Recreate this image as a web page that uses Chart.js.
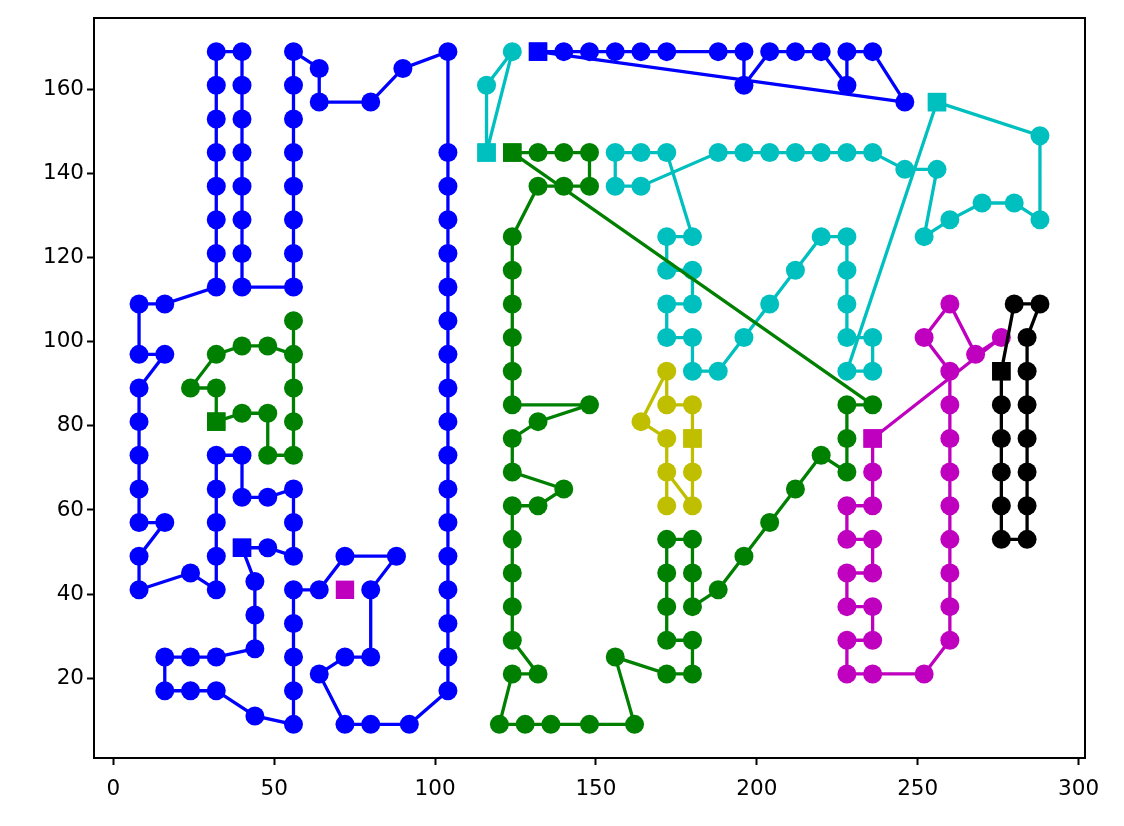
<!DOCTYPE html>
<html lang="en">
<head>
    <meta charset="UTF-8">
    <title>Vehicle routes</title>
    <script src="https://cdn.jsdelivr.net/npm/chart.js"></script>
    <style>
        body { margin: 0; background: #fff; }
        #wrap { width: 1124px; height: 826px; }
    </style>
</head>
<body>
    <div id="wrap"><canvas id="routeChart" width="1124" height="826"></canvas></div>

    <script>
        // route points as [x, y]; first point of each route is its depot (square marker)
        const routeBlue1 = [[40,51],[48,51],[56,49],[56,57],[56,65],[48,63],[40,63],[40,73],[32,73],[32,65],[32,57],[32,49],[32,41],[24,45],[8,41],[8,49],[16,57],[8,57],[8,65],[8,73],[8,81],[8,89],[16,97],[8,97],[8,109],[16,109],[32,113],[32,121],[32,129],[32,137],[32,145],[32,153],[32,161],[32,169],[40,169],[40,161],[40,153],[40,145],[40,137],[40,129],[40,121],[40,113],[56,113],[56,121],[56,129],[56,137],[56,145],[56,153],[56,161],[56,169],[64,165],[64,157],[80,157],[90,165],[104,169],[104,145],[104,137],[104,129],[104,121],[104,113],[104,105],[104,97],[104,89],[104,81],[104,73],[104,65],[104,57],[104,49],[104,41],[104,33],[104,25],[104,17],[92,9],[80,9],[72,9],[64,21],[72,25],[80,25],[80,41],[88,49],[72,49],[64,41],[56,41],[56,33],[56,25],[56,17],[56,9],[44,11],[32,17],[24,17],[16,17],[16,25],[24,25],[32,25],[44,27],[44,35],[44,43],[40,51]];
        const routeBlue2 = [[132,169],[140,169],[148,169],[156,169],[164,169],[172,169],[188,169],[196,169],[196,161],[204,169],[212,169],[220,169],[228,161],[228,169],[236,169],[246,157],[132,169]];
        const routeGreen1 = [[32,81],[40,83],[48,83],[48,73],[56,73],[56,81],[56,89],[56,105],[56,97],[48,99],[40,99],[32,97],[24,89],[32,89],[32,81]];
        const routeGreen2 = [[124,145],[132,145],[140,145],[148,145],[148,137],[140,137],[132,137],[124,125],[124,117],[124,109],[124,101],[124,93],[124,85],[148,85],[132,81],[124,77],[124,69],[140,65],[132,61],[124,61],[124,53],[124,45],[124,37],[124,29],[132,21],[124,21],[120,9],[128,9],[136,9],[148,9],[162,9],[156,25],[172,21],[180,21],[180,29],[172,29],[172,37],[172,45],[172,53],[180,53],[180,45],[180,37],[188,41],[196,49],[204,57],[212,65],[220,73],[228,69],[228,77],[228,85],[236,85],[124,145]];
        const routeCyan1 = [[116,145],[116,161],[124,169],[116,145]];
        const routeCyan2 = [[256,157],[288,149],[288,129],[280,133],[270,133],[260,129],[252,125],[256,141],[246,141],[236,145],[228,145],[220,145],[212,145],[204,145],[196,145],[188,145],[164,137],[156,137],[156,145],[164,145],[172,145],[180,125],[172,125],[172,117],[180,117],[180,109],[172,109],[172,101],[180,101],[180,93],[188,93],[196,101],[204,109],[212,117],[220,125],[228,125],[228,117],[228,109],[228,101],[236,101],[236,93],[228,93],[256,157]];
        const routeMagenta1 = [[72,41]];
        const routeMagenta2 = [[236,77],[236,69],[236,61],[228,61],[228,53],[236,53],[236,45],[228,45],[228,37],[236,37],[236,29],[228,29],[228,21],[236,21],[252,21],[260,29],[260,37],[260,45],[260,53],[260,61],[260,69],[260,77],[260,85],[260,93],[252,101],[260,109],[268,97],[276,101],[236,77]];
        const routeYellow = [[180,77],[180,85],[172,85],[172,93],[164,81],[172,77],[172,61],[172,69],[180,61],[180,69],[180,77]];
        const routeBlack = [[276,93],[280,109],[288,109],[284,101],[284,93],[284,85],[284,77],[284,69],[284,61],[284,53],[276,53],[276,61],[276,69],[276,77],[276,85],[276,93]];

        const xTicks = [0, 50, 100, 150, 200, 250, 300];
        const yTicks = [20, 40, 60, 80, 100, 120, 140, 160];

        // drawn in this order, later ones on top
        const routes = [
            { pts: routeBlue1, color: '#0000ff' },
            { pts: routeBlue2, color: '#0000ff' },
            { pts: routeCyan1, color: '#00bfbf' },
            { pts: routeCyan2, color: '#00bfbf' },
            { pts: routeGreen1, color: '#008000' },
            { pts: routeGreen2, color: '#008000' },
            { pts: routeMagenta1, color: '#bf00bf' },
            { pts: routeMagenta2, color: '#bf00bf' },
            { pts: routeYellow, color: '#bfbf00' },
            { pts: routeBlack, color: '#000000' }
        ];

        function isDepot(c) {
            return c.dataIndex === 0 || c.dataIndex === c.dataset.data.length - 1;
        }

        // Chart.js paints dataset 0 last, so reverse to keep black on top
        const datasets = routes.map(r => ({
            data: r.pts.map(p => ({ x: p[0], y: p[1] })),
            showLine: true,
            borderColor: r.color,
            backgroundColor: r.color,
            borderWidth: 3.3,
            pointBorderWidth: 0,
            pointStyle: c => isDepot(c) ? 'rect' : 'circle',
            pointRadius: c => isDepot(c) ? 13 : 9.5,
            pointHoverRadius: c => isDepot(c) ? 13 : 9.5
        })).reverse();

        const frame = {
            id: 'frame',
            afterDraw(chart) {
                const a = chart.chartArea, ctx = chart.ctx;
                ctx.save();
                ctx.strokeStyle = '#000';
                ctx.lineWidth = 2;
                ctx.strokeRect(a.left, a.top, a.right - a.left, a.bottom - a.top);
                ctx.restore();
            }
        };

        const tickFont = { family: 'DejaVu Sans', size: 21.5 };

        new Chart(document.getElementById('routeChart'), {
            type: 'scatter',
            data: { datasets: datasets },
            options: {
                responsive: false,
                devicePixelRatio: 1,
                animation: false,
                layout: { padding: { left: 0, top: 18, right: 39, bottom: 0 } },
                plugins: { legend: { display: false }, tooltip: { enabled: false } },
                scales: {
                    x: {
                        type: 'linear',
                        min: -6,
                        max: 302,
                        afterBuildTicks: s => { s.ticks = xTicks.map(v => ({ value: v })); },
                        afterFit: s => { s.height = 68; },
                        border: { display: false },
                        grid: { drawOnChartArea: false, drawTicks: true, tickLength: 7, tickWidth: 2, color: '#000' },
                        ticks: { color: '#000', font: tickFont, padding: 12, maxRotation: 0 }
                    },
                    y: {
                        type: 'linear',
                        min: 1,
                        max: 177,
                        afterBuildTicks: s => { s.ticks = yTicks.map(v => ({ value: v })); },
                        afterFit: s => { s.width = 94; },
                        border: { display: false },
                        grid: { drawOnChartArea: false, drawTicks: true, tickLength: 7, tickWidth: 2, color: '#000' },
                        ticks: { color: '#000', font: tickFont, padding: 3 }
                    }
                }
            },
            plugins: [frame]
        });
    </script>
</body>
</html>
